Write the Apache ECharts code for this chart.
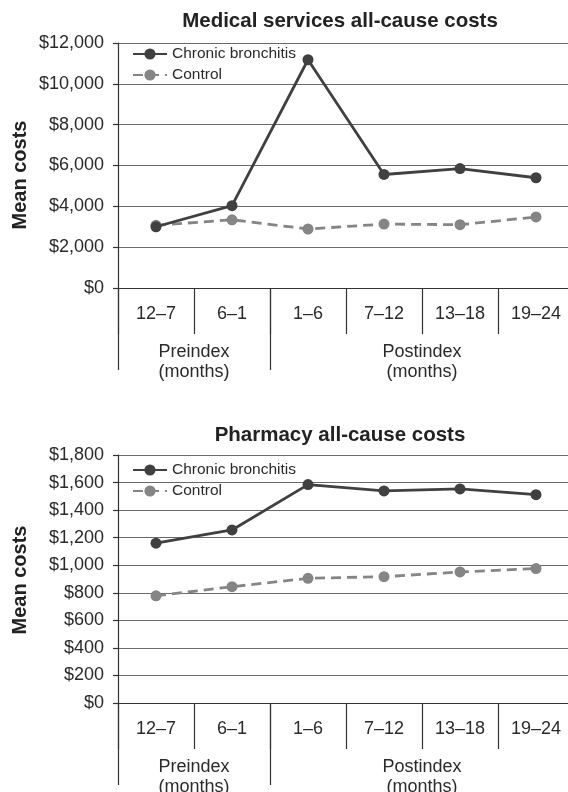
<!DOCTYPE html>
<html><head><meta charset="utf-8">
<script src="https://cdn.jsdelivr.net/npm/echarts@6/dist/echarts.min.js"></script>
<style>html,body{margin:0;padding:0;background:#fff}#c{width:568px;height:792px}</style>
</head><body><div id="c"></div>
<script>
const categories = ['12–7', '6–1', '1–6', '7–12', '13–18', '19–24'];
const groupLabels = ['Preindex\n(months)', 'Postindex\n(months)'];
const groupCenters = [1, 4];
const groupBounds = [0, 2, 6];
const seriesNames = ['Chronic bronchitis', 'Control'];
const medicalCB = [3000, 4030, 11180, 5560, 5850, 5400];
const medicalCtrl = [3070, 3340, 2890, 3130, 3100, 3480];
const pharmCB = [1160, 1256, 1585, 1539, 1554, 1512];
const pharmCtrl = [778, 844, 905, 917, 951, 976];
const medicalTicks = { min: 0, max: 12000, interval: 2000 };
const pharmTicks = { min: 0, max: 1800, interval: 200 };
const titles = ['Medical services all-cause costs', 'Pharmacy all-cause costs'];
const yName = 'Mean costs';

const FONT = '"Liberation Sans", Arial, Helvetica, sans-serif';
const TXT = '#2a2a2a';
const AX = '#333';
const DARK = '#404040';
const LIGHT = '#858585';

const grids = [
  { left: 118, top: 43, width: 456, height: 245, outerBoundsMode: 'none', containLabel: false },
  { left: 118, top: 455, width: 456, height: 248, outerBoundsMode: 'none', containLabel: false }
];

function catAxis(gi) {
  return {
    type: 'category', gridIndex: gi, data: categories, boundaryGap: true, position: 'bottom',
    axisLine: { show: true, lineStyle: { color: AX, width: 1.2 } },
    axisTick: { show: true, length: 46, lineStyle: { color: AX, width: 1.2 } },
    axisLabel: { color: TXT, fontSize: 18, fontFamily: FONT, margin: 17 },
    splitLine: { show: false }
  };
}
function groupAxis(gi) {
  return {
    type: 'value', gridIndex: gi, min: 0, max: categories.length, position: 'bottom',
    axisLine: { show: false },
    axisTick: { show: true, length: 82, customValues: groupBounds, lineStyle: { color: AX, width: 1.2 } },
    axisLabel: {
      show: true, customValues: groupCenters, color: TXT, fontSize: 18, fontFamily: FONT,
      margin: 54, lineHeight: 20,
      formatter: v => groupLabels[groupCenters.indexOf(v)] || ''
    },
    splitLine: { show: false }
  };
}
function valAxis(gi, t) {
  return {
    type: 'value', gridIndex: gi, min: t.min, max: t.max, interval: t.interval,
    axisLine: { show: true, lineStyle: { color: AX, width: 1.2 } },
    axisTick: { show: true, length: 5, lineStyle: { color: AX, width: 1.2 } },
    axisLabel: { color: TXT, fontSize: 18, fontFamily: FONT, margin: 14,
      formatter: v => '$' + v.toLocaleString('en-US') },
    splitLine: { show: true, lineStyle: { color: '#6a6a6a', width: 1 } }
  };
}
function lineSeries(name, data, xi, yi, dashed) {
  const c = dashed ? LIGHT : DARK;
  return {
    name: name, type: 'line', xAxisIndex: xi, yAxisIndex: yi, data: data,
    symbol: 'circle', symbolSize: 11, showSymbol: true,
    lineStyle: { color: c, width: 2.8, type: dashed ? [10, 6] : 'solid' },
    itemStyle: { color: c },
    animation: false, z: dashed ? 3 : 4
  };
}
function legend(top) {
  return {
    orient: 'vertical', left: 132, top: top, itemWidth: 34, itemHeight: 14, itemGap: 5,
    data: seriesNames, padding: 0,
    textStyle: { color: TXT, fontSize: 15.5, fontFamily: FONT }
  };
}

const chart = echarts.init(document.getElementById('c'), null, { renderer: 'canvas' });
chart.setOption({
  backgroundColor: '#fff',
  animation: false,
  title: [
    { text: titles[0], left: 340, top: 11, textAlign: 'center', padding: 0,
      textStyle: { fontSize: 20.5, fontWeight: 'bold', color: '#222', fontFamily: FONT } },
    { text: titles[1], left: 340, top: 425, textAlign: 'center', padding: 0,
      textStyle: { fontSize: 20.5, fontWeight: 'bold', color: '#222', fontFamily: FONT } }
  ],
  legend: [legend(46), legend(462)],
  grid: grids,
  xAxis: [catAxis(0), groupAxis(0), catAxis(1), groupAxis(1)],
  yAxis: [valAxis(0, medicalTicks), valAxis(1, pharmTicks)],
  series: [
    lineSeries(seriesNames[1], medicalCtrl, 0, 0, true),
    lineSeries(seriesNames[0], medicalCB, 0, 0, false),
    lineSeries(seriesNames[1], pharmCtrl, 2, 1, true),
    lineSeries(seriesNames[0], pharmCB, 2, 1, false)
  ],
  graphic: [
    { type: 'text', x: 20, y: 175, rotation: Math.PI / 2,
      style: { text: yName, font: 'bold 20px ' + FONT, fill: '#222', align: 'center', verticalAlign: 'middle' } },
    { type: 'text', x: 20, y: 580, rotation: Math.PI / 2,
      style: { text: yName, font: 'bold 20px ' + FONT, fill: '#222', align: 'center', verticalAlign: 'middle' } }
  ]
});
</script></body></html>
